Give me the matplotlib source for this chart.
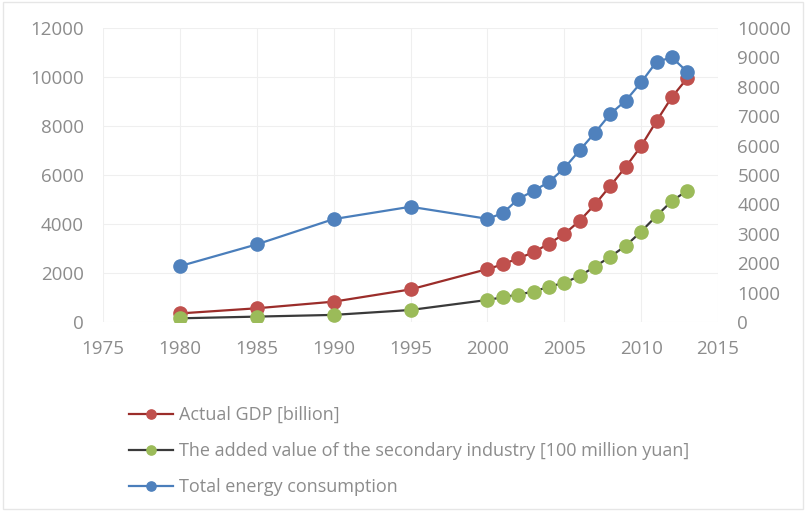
import matplotlib
matplotlib.use("Agg")
import matplotlib.pyplot as plt
from matplotlib.patches import Rectangle

years = [1980, 1985, 1990, 1995, 2000, 2001, 2002, 2003, 2004, 2005, 2006,
         2007, 2008, 2009, 2010, 2011, 2012, 2013]
gdp = [350, 560, 830, 1330, 2160, 2350, 2600, 2840, 3200, 3590, 4130,
       4800, 5560, 6330, 7180, 8200, 9180, 9950]
secondary = [150, 220, 290, 490, 900, 1010, 1120, 1240, 1440, 1600, 1880,
             2260, 2670, 3110, 3690, 4330, 4940, 5360]
energy = [1900, 2640, 3500, 3920, 3510, 3700, 4180, 4460, 4760, 5230, 5840,
          6440, 7080, 7530, 8150, 8850, 9000, 8510]

labels = ["Actual GDP [billion]",
          "The added value of the secondary industry [100 million yuan]",
          "Total energy consumption"]

plt.rcParams['font.family'] = ['Open Sans', 'DejaVu Sans']
tick_color = '#8C8C8C'
fs_tick = 13.5
fs_leg = 13

fig = plt.figure(figsize=(8.06, 5.11), dpi=100)
fig.patches.append(Rectangle((0.004, 0.004), 0.992, 0.992, transform=fig.transFigure,
                             fill=False, edgecolor='#E6E6E6', linewidth=1))
ax = fig.add_axes([103/806, 1-322/511, (718-103)/806, (322-28)/511])
ax2 = ax.twinx()

l1, = ax.plot(years, gdp, color='#9B2D2A', lw=1.6, marker='o', ms=9.5,
              mfc='#C0504D', mec='#C0504D', label=labels[0])
l2, = ax.plot(years, secondary, color='#3A3A3A', lw=1.6, marker='o', ms=9.5,
              mfc='#9BBB59', mec='#9BBB59', label=labels[1])
l3, = ax2.plot(years, energy, color='#4A7EBB', lw=1.6, marker='o', ms=9.5,
               mfc='#4F81BD', mec='#4F81BD', label=labels[2])

ax.set_xlim(1975, 2015)
ax.set_xticks(range(1975, 2016, 5))
ax.set_ylim(0, 12000)
ax.set_yticks(range(0, 12001, 2000))
ax2.set_ylim(0, 10000)
ax2.set_yticks(range(0, 10001, 1000))

ax.grid(True, color='#EFEFEF', lw=0.8)
ax.set_axisbelow(True)
for a in (ax, ax2):
    for s in a.spines.values():
        s.set_visible(False)
ax.tick_params(axis='both', length=0, colors=tick_color, labelsize=fs_tick)
ax.tick_params(axis='y', pad=14)
ax.tick_params(axis='x', pad=13)
ax2.tick_params(axis='y', length=0, colors=tick_color, labelsize=fs_tick, pad=14)

fig.legend(handles=[l1, l2, l3], loc='upper left',
           bbox_to_anchor=(113/806, 1-390/511), frameon=False,
           fontsize=fs_leg, labelcolor=tick_color, handlelength=2.4,
           handletextpad=0.35, labelspacing=1.0, markerscale=0.7)

fig.savefig("out.png", dpi=100)
